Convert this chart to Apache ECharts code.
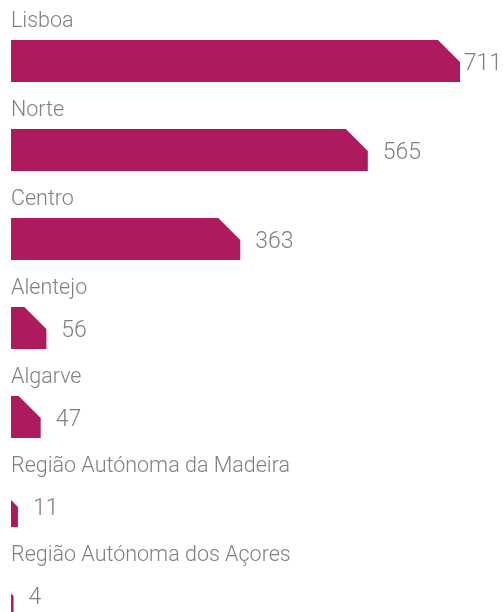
<!DOCTYPE html>
<html>
<head>
<meta charset="utf-8">
<script src="https://cdn.jsdelivr.net/npm/echarts@6/dist/echarts.min.js"></script>
<style>
  html, body { margin: 0; padding: 0; background: #fff; }
  #chart { width: 503px; height: 612px; }
</style>
</head>
<body>
<div id="chart"></div>
<script>
// regiões e número de registos
var regioes = ['Lisboa', 'Norte', 'Centro', 'Alentejo', 'Algarve',
	'Região Autónoma da Madeira', 'Região Autónoma dos Açores'];
var valores = [711, 565, 363, 56, 47, 11, 4];

var cor = '#ae1a5e';
var corTexto = '#808080';
var fonte = 'Roboto, "Noto Sans", sans-serif';
var fonteNum = '300 23px ' + fonte;

var myChart = echarts.init(document.getElementById('chart'));

// para o número não sair da área visível
var ctx = document.createElement('canvas').getContext('2d');
ctx.font = fonteNum;

function desenhaBarra(params, api) {
	var idx = api.value(0);
	var v = api.value(1);
	var inicio = api.coord([0, idx]);
	var fim = api.coord([v, idx]);
	var banda = api.size([0, 1])[1];
	var topo = inicio[1] - banda / 2;
	var x0 = inicio[0];
	var w = fim[0] - x0;
	var y = topo + 40, h = 42, c = 22;
	var pts;
	if (w >= c) {
		pts = [[x0, y], [x0 + w - c, y], [x0 + w, y + c], [x0 + w, y + h], [x0, y + h]];
	} else {
		pts = [[x0, y + c - w], [x0 + w, y + c], [x0 + w, y + h], [x0, y + h]];
	}
	var xNum = Math.min(x0 + w + 15, myChart.getWidth() - 1 - ctx.measureText(String(v)).width);
	return {
		type: 'group',
		children: [
			{
				type: 'polygon',
				shape: { points: pts },
				style: { fill: cor }
			},
			{
				type: 'text',
				x: x0, y: topo + 22,
				style: {
					text: regioes[idx], fill: corTexto, font: '300 21.5px ' + fonte,
					textAlign: 'left', textVerticalAlign: 'middle'
				}
			},
			{
				type: 'text',
				x: xNum, y: y + h / 2 + 3,
				style: {
					text: String(v), fill: corTexto, font: fonteNum,
					textAlign: 'left', textVerticalAlign: 'middle'
				}
			}
		]
	};
}

var option = {
	animation: false,
	grid: { left: 11, width: 449, top: 0, height: 623, outerBoundsMode: 'none', containLabel: false },
	xAxis: { type: 'value', min: 0, max: 711, show: false },
	yAxis: { type: 'category', data: regioes, inverse: true, show: false },
	series: [{
		type: 'custom',
		renderItem: desenhaBarra,
		clip: false,
		encode: { x: 1, y: 0 },
		data: valores.map(function (v, i) { return [i, v]; })
	}]
};
myChart.setOption(option);
</script>
</body>
</html>
